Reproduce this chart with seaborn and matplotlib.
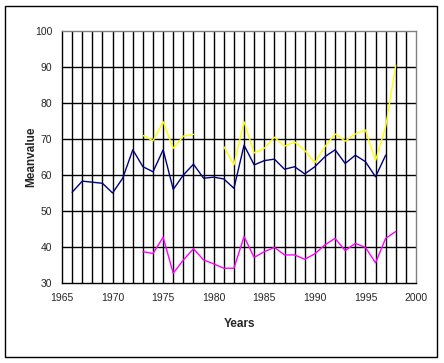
import numpy as np
import pandas as pd
import matplotlib
matplotlib.use('Agg')
import matplotlib.pyplot as plt
import seaborn as sns
from matplotlib.patches import Rectangle

# yearly mean values
blue_years = list(range(1966, 1998))
blue_vals = [55.2, 58.3, 58.0, 57.7, 55.0, 59.1, 67.0, 62.3, 60.9, 67.0,
             56.0, 60.0, 63.0, 59.1, 59.4, 58.9, 56.3, 68.3, 62.8, 64.0,
             64.4, 61.6, 62.3, 60.3, 62.3, 65.1, 67.0, 63.2, 65.5, 63.7,
             59.5, 65.5]

yellow_years_a = list(range(1973, 1979))
yellow_vals_a = [71.0, 69.5, 74.8, 67.4, 70.8, 71.3]
yellow_years_b = list(range(1981, 1999))
yellow_vals_b = [67.9, 62.8, 74.8, 66.1, 67.4, 70.5, 68.0, 69.2, 66.8,
                 63.4, 67.9, 71.4, 69.4, 71.4, 72.5, 64.0, 73.4, 90.5]

magenta_years = list(range(1973, 1999))
magenta_vals = [38.7, 38.2, 42.7, 32.7, 36.4, 39.5, 36.4, 35.3, 34.1,
                34.1, 42.9, 37.1, 38.7, 39.9, 37.8, 37.8, 36.6, 38.1,
                40.6, 42.4, 39.0, 41.0, 39.9, 35.6, 42.4, 44.3]


def main():
    sns.set_style('white')
    plt.rcParams['font.family'] = ['Liberation Sans', 'DejaVu Sans']

    frames = [
        pd.DataFrame({'Years': blue_years, 'value': blue_vals,
                      'series': 'blue', 'seg': 'b'}),
        pd.DataFrame({'Years': yellow_years_a, 'value': yellow_vals_a,
                      'series': 'yellow', 'seg': 'y1'}),
        pd.DataFrame({'Years': yellow_years_b, 'value': yellow_vals_b,
                      'series': 'yellow', 'seg': 'y2'}),
        pd.DataFrame({'Years': magenta_years, 'value': magenta_vals,
                      'series': 'magenta', 'seg': 'm'}),
    ]
    df = pd.concat(frames, ignore_index=True)

    fig = plt.figure(figsize=(4.44, 3.63), dpi=100)
    ax = fig.add_axes([62 / 444, 1 - 283 / 363, 354 / 444, 252 / 363])

    # grid first so the lines sit on top
    for yr in range(1966, 2000):
        ax.axvline(yr, color='black', lw=1.0, zorder=1)
    for v in range(40, 100, 10):
        ax.axhline(v, color='black', lw=1.0, zorder=1)

    palette = {'blue': '#000080', 'yellow': '#FFFF00', 'magenta': '#FF00FF'}
    sns.lineplot(data=df, x='Years', y='value', hue='series', units='seg',
                 estimator=None, palette=palette, lw=1.0, legend=False,
                 ax=ax, zorder=3)

    ax.set_xlim(1965, 2000)
    ax.set_ylim(30, 100)
    ax.set_xticks(range(1965, 2001, 5))
    ax.set_yticks(range(30, 101, 10))
    ax.tick_params(axis='both', labelsize=7.5, length=4, width=1,
                   direction='out', color='black', pad=3)
    ax.set_xlabel('Years', fontsize=8.5, fontweight='bold')
    ax.set_ylabel('Meanvalue', fontsize=8.5, fontweight='bold')
    ax.xaxis.set_label_coords(0.5, -0.14)
    ax.yaxis.set_label_coords(-0.07, 0.5)

    for side in ['top', 'right']:
        ax.spines[side].set_color('#808080')
    for side in ['left', 'bottom']:
        ax.spines[side].set_color('black')
    for sp in ax.spines.values():
        sp.set_linewidth(1.0)

    # outer chart border
    fig.patches.append(Rectangle((5 / 444, 6 / 363), 432 / 444, 351 / 363,
                                 transform=fig.transFigure, fill=False,
                                 edgecolor='black', lw=1.0))

    fig.savefig('out.png', dpi=100)


if __name__ == '__main__':
    main()
